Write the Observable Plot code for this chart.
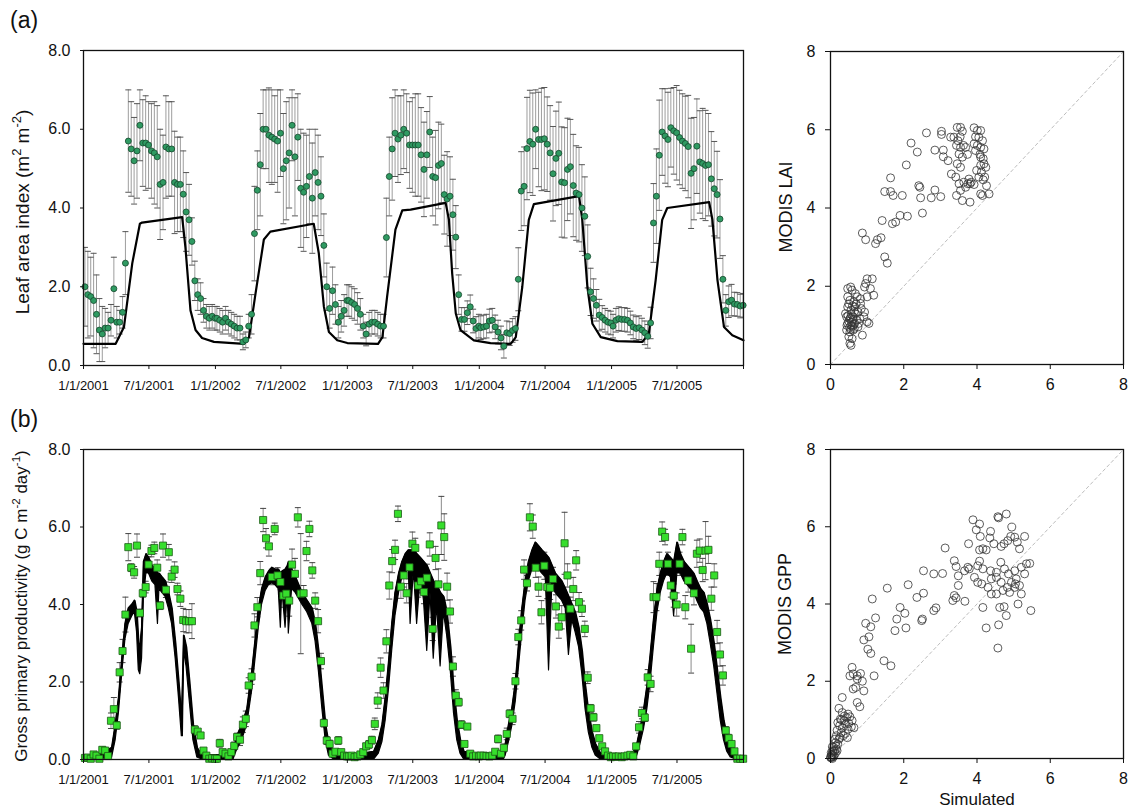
<!DOCTYPE html>
<html>
<head>
<meta charset="utf-8">
<script src="https://cdn.jsdelivr.net/npm/d3@7"></script>
<script src="https://cdn.jsdelivr.net/npm/@observablehq/plot@0.6"></script>
<style>
html,body{margin:0;padding:0;background:#fff;}
#wrap{position:relative;width:1131px;height:811px;overflow:hidden;font-family:"Liberation Sans",Arial,Helvetica,sans-serif;color:#111;}
.pnl{position:absolute;}
.txt{position:absolute;white-space:nowrap;line-height:1;}
.ylab{position:absolute;white-space:nowrap;line-height:1;transform:translate(-50%,-50%) rotate(-90deg);}
.ylab sup{font-size:68%;line-height:0;}
</style>
</head>
<body>
<div id="wrap"></div>
<script>
// ---------- tick labels ----------
const xTickDates = ["2001-01-01","2001-07-01","2002-01-01","2002-07-01","2003-01-01","2003-07-01","2004-01-01","2004-07-01","2005-01-01","2005-07-01","2006-01-01"];
const xTickLabels = ["1/1/2001","7/1/2001","1/1/2002","7/1/2002","1/1/2003","7/1/2003","1/1/2004","7/1/2004","1/1/2005","7/1/2005",""];
const yTicks = [0, 2, 4, 6, 8];
const scatterTicks = [0, 2, 4, 6, 8];
const oneToOne = [0, 8];
const years = [2001, 2002, 2003, 2004, 2005];

// ---------- MODIS LAI (8-day composites) ----------
const lai2001 = [2.0,1.8,1.75,1.65,1.3,0.9,0.8,0.95,0.95,1.15,1.95,1.1,1.1,1.35,2.6,5.7,5.5,5.2,5.45,6.1,5.65,5.65,5.6,5.45,5.4,5.3,4.6,4.65,5.55,5.5,5.5,4.65,4.6,4.6,4.35,3.9,3.7,3.15,2.15,1.8,1.7,1.4,1.25,1.2,1.25,1.2];
const lai2002 = [1.2,1.15,1.1,1.2,1.1,1.05,1.0,0.95,0.95,0.6,0.65,1.0,1.3,3.35,4.45,5.1,6.0,6.0,5.85,5.8,5.75,5.7,5.9,5.0,5.2,5.4,6.1,5.3,5.8,4.5,4.4,4.55,4.8,4.25,4.9,4.65,4.3,3.05,2.0,1.45,1.9,1.55,1.1,1.25,1.4,1.65];
const lai2003 = [1.65,1.6,1.55,1.45,1.3,1.0,0.8,1.05,1.1,1.1,1.05,1.0,1.0,3.25,4.8,5.5,5.9,5.75,5.85,6.0,5.9,5.6,5.6,5.6,5.6,5.35,4.98,5.35,5.93,4.8,4.77,5.08,5.13,4.34,4.23,4.3,3.83,3.26,1.8,1.17,1.17,1.34,1.49,1.13,0.94,1.0];
const lai2004 = [0.96,0.98,1.0,1.13,1.15,0.98,0.85,0.7,0.49,0.83,0.81,0.89,0.94,2.19,4.43,4.55,5.51,5.69,5.62,6.0,5.74,5.74,5.76,5.62,5.4,4.87,5.26,5.39,4.66,4.64,4.98,5.05,4.57,4.38,4.34,4.0,3.79,2.77,1.87,1.7,1.53,1.28,1.22,1.15,1.1,1.08];
const lai2005 = [1.0,1.15,1.19,1.17,1.17,1.15,1.08,0.98,0.94,0.96,0.9,0.83,0.74,1.08,3.62,4.3,5.34,5.93,5.83,5.74,6.04,5.96,5.91,5.79,5.7,5.64,5.56,4.88,5.0,5.57,5.17,5.13,5.08,5.1,4.74,4.49,4.34,3.72,2.19,1.4,1.62,1.66,1.56,1.55,1.51,1.53];
const laiSd2001 = [1.0,1.1,1.0,1.2,1.0,0.8,0.7,0.5,0.4,0.4,0.8,0.4,0.3,0.4,0.8,1.3,1.2,1.1,1.2,0.9,1.1,1.2,1.1,1.2,1.3,1.3,1.4,1.2,1.3,1.2,1.2,1.3,1.2,1.2,1.1,1.0,0.9,0.6,0.5,0.4,0.4,0.3,0.3,0.3,0.3,0.3];
const laiSd2002 = [0.3,0.3,0.3,0.3,0.3,0.3,0.3,0.3,0.3,0.2,0.2,0.3,0.5,1.2,1.0,1.3,1.0,1.0,1.2,1.2,1.1,1.3,1.1,1.4,1.5,1.4,0.9,1.5,1.1,1.5,1.5,1.3,1.2,1.4,1.1,1.2,1.0,0.8,0.6,0.5,0.6,0.5,0.4,0.4,0.4,0.4];
const laiSd2003 = [0.4,0.4,0.4,0.4,0.4,0.3,0.3,0.3,0.3,0.3,0.3,0.3,0.3,1.0,1.0,1.3,1.1,1.1,1.0,1.0,1.0,1.1,1.2,1.3,1.3,1.2,1.2,1.1,0.9,1.0,1.2,1.1,1.0,1.0,1.2,1.0,0.9,0.8,0.5,0.3,0.3,0.3,0.3,0.3,0.3,0.3];
const laiSd2004 = [0.3,0.3,0.3,0.3,0.3,0.3,0.3,0.3,0.3,0.3,0.3,0.3,0.3,0.8,1.0,1.0,1.3,1.3,1.3,1.0,1.2,1.3,1.3,1.2,1.2,1.2,1.2,1.3,1.4,1.4,1.3,1.2,1.3,1.2,1.2,1.1,1.0,0.8,0.6,0.5,0.4,0.4,0.3,0.3,0.3,0.3];
const laiSd2005 = [0.3,0.3,0.3,0.3,0.3,0.3,0.3,0.3,0.3,0.3,0.3,0.3,0.3,0.4,1.0,1.2,1.4,1.1,1.2,1.2,1.0,1.1,1.2,1.2,1.2,1.2,1.3,1.4,1.3,1.2,1.3,1.4,1.4,1.3,1.2,1.2,1.1,1.0,0.6,0.4,0.4,0.4,0.3,0.3,0.3,0.3];

// ---------- MODIS GPP (8-day composites, g C m-2 day-1) ----------
const gpp2001 = [0.04,0.05,0.02,0.13,0.1,0.02,0.25,0.23,0.09,1.0,1.3,0.88,2.25,2.8,3.74,5.48,4.95,4.83,5.52,3.78,4.29,4.45,5.03,5.38,5.46,4.95,3.97,5.52,4.38,5.35,4.72,4.9,4.4,4.15,3.6,3.57,3.57,3.57,0.77,0.72,0.62,0.23,0.1,0.02,0.03,0.02];
const gpp2002 = [0.02,0.42,0.19,0.15,0.08,0.19,0.35,0.58,0.51,0.9,1.05,1.91,2.14,3.46,3.93,4.81,6.18,5.71,5.5,4.71,5.95,4.75,4.58,4.23,4.28,4.1,5.03,4.79,6.25,4.28,4.29,5.38,5.95,4.88,4.1,3.57,2.54,0.94,0.49,0.4,0.15,0.2,0.49,0.19,0.1,0.08];
const gpp2003 = [0.08,0.1,0.06,0.08,0.13,0.19,0.34,0.39,0.5,0.92,1.52,2.37,1.78,3.05,4.49,5.12,5.41,6.34,4.46,4.75,4.29,4.96,5.57,5.46,4.49,4.6,4.32,4.69,5.55,3.37,5.2,4.52,6.04,5.74,4.46,3.82,2.4,1.65,1.48,0.9,0.4,0.85,0.15,0.08,0.1,0.08];
const gpp2004 = [0.1,0.1,0.09,0.08,0.1,0.2,0.53,0.15,0.3,0.66,1.18,1.05,2.02,3.16,3.59,4.9,4.55,6.25,6.01,4.95,4.46,3.8,5.0,4.45,4.43,4.66,3.95,3.43,3.67,5.58,4.75,3.89,4.4,5.14,4.06,3.89,3.37,2.11,1.32,1.09,0.81,0.55,0.34,0.21,0.1,0.06];
const gpp2005 = [0.08,0.07,0.08,0.06,0.08,0.1,0.12,0.08,0.34,0.83,1.2,1.08,2.12,1.95,4.19,4.19,5.05,5.88,5.74,5.05,4.49,4.23,4.0,5.05,5.74,3.93,4.62,2.86,4.29,5.31,5.39,4.89,5.39,5.41,4.15,4.75,3.29,2.71,2.17,0.75,0.55,0.4,0.21,0.02,0.02,0.02];
const gppSd2001 = [0.03,0.03,0.03,0.05,0.05,0.03,0.08,0.08,0.05,0.2,0.3,0.1,0.25,0.3,0.45,0.35,0.1,0.15,0.3,0.1,0.1,0.15,0.2,0.15,0.15,0.2,0.1,0.3,0.2,0.2,0.15,0.2,0.15,0.2,0.3,0.3,0.3,0.45,0.1,0.05,0.05,0.03,0.03,0.02,0.02,0.02];
const gppSd2002 = [0.02,0.1,0.05,0.05,0.03,0.05,0.1,0.1,0.15,0.2,0.2,0.2,0.2,0.3,0.25,0.3,0.3,0.25,0.25,0.2,0.15,0.2,0.2,0.3,0.3,0.4,0.4,0.4,0.25,1.55,0.2,0.25,0.2,0.2,0.2,0.3,0.2,0.1,0.1,0.1,0.05,0.05,0.1,0.05,0.03,0.03];
const gppSd2003 = [0.03,0.03,0.03,0.03,0.05,0.05,0.08,0.1,0.1,0.15,0.2,0.25,0.2,0.3,0.35,0.3,0.25,0.2,0.3,0.3,0.25,0.3,0.3,0.25,0.3,0.3,0.3,0.35,0.3,0.3,0.3,0.4,0.75,0.6,0.35,0.3,0.25,0.15,0.1,0.1,0.05,0.05,0.03,0.03,0.03,0.03];
const gppSd2004 = [0.03,0.03,0.03,0.03,0.03,0.05,0.1,0.05,0.1,0.15,0.1,0.15,0.2,0.2,0.25,0.25,0.2,0.35,0.3,0.25,0.25,0.3,0.35,0.3,0.3,0.3,0.3,0.3,0.3,0.8,0.3,0.3,0.3,0.25,0.25,0.2,0.2,0.15,0.1,0.1,0.05,0.05,0.03,0.03,0.03,0.02];
const gppSd2005 = [0.02,0.02,0.02,0.02,0.02,0.03,0.03,0.03,0.05,0.15,0.15,0.1,0.2,0.2,0.4,0.35,0.3,0.25,0.2,0.3,0.3,0.3,0.3,0.3,0.2,0.3,0.3,0.63,0.3,0.35,0.3,0.3,0.75,0.35,0.3,0.3,0.3,0.3,0.25,0.1,0.1,0.05,0.03,0.02,0.02,0.02];

// ---------- simulated LAI (days since 2001-01-01) ----------
const simLaiDay = [0,89,112,135,156,162,273,282,296,310,328,361,444,458,476,499,517,637,651,665,679,702,730,815,827,840,863,882,905,1002,1011,1020,1030,1043,1080,1126,1182,1196,1214,1232,1246,1371,1380,1394,1408,1431,1477,1546,1564,1583,1601,1615,1731,1740,1754,1772,1795,1826];
const simLaiVal = [0.55,0.55,0.98,2.6,3.6,3.63,3.77,3.0,1.4,0.9,0.7,0.6,0.55,0.72,1.83,3.2,3.4,3.6,2.85,1.5,0.85,0.64,0.57,0.55,0.72,1.75,3.45,3.94,3.96,4.13,3.7,2.34,1.32,0.9,0.64,0.57,0.55,0.72,2.0,3.7,4.1,4.3,3.7,2.0,1.06,0.72,0.62,0.6,0.8,2.17,3.7,4.0,4.15,3.7,2.17,0.98,0.77,0.64];

// ---------- simulated GPP: daily range (low / high) ----------
const simGppDay = [0,40,79,89,98,107,116,125,135,142,148,153,157,162,167,174,181,190,199,206,210,218,227,236,245,255,264,272,275,278,285,294,304,315,328,380,415,425,439,453,467,476,485,494,504,513,522,531,540,546,550,559,565,568,577,587,596,605,619,633,642,651,661,670,679,693,750,804,817,827,836,845,854,863,873,882,891,900,905,914,923,933,942,951,960,969,978,988,997,1006,1016,1025,1034,1043,1053,1110,1163,1168,1177,1186,1196,1205,1214,1223,1232,1242,1251,1260,1269,1279,1288,1297,1306,1315,1324,1334,1343,1352,1361,1371,1380,1389,1398,1408,1417,1431,1480,1523,1532,1541,1551,1560,1569,1578,1588,1597,1606,1615,1625,1634,1643,1652,1662,1671,1680,1689,1698,1708,1717,1726,1735,1745,1754,1763,1772,1781,1791,1805,1826];
const simGppLo = [0,0,0.05,0.5,1.2,2.2,3.1,3.5,3.7,3.8,
3.3,2.3,2.2,2.6,4.2,4.8,4.8,4.6,4.5,3.5,
4.4,4.3,4.2,3.9,3.5,2.6,1.6,0.6,0.6,2.8,
2.4,1.5,0.5,0.05,0,0,0,0.25,0.5,0.9,
1.8,2.6,3.4,4.0,4.35,4.5,4.55,4.5,4.4,3.4,
4.4,3.4,4.3,3.25,4.4,4.3,4.15,4.0,3.8,3.5,
3.05,2.3,1.3,0.5,0.1,0,0,0,0.15,0.45,
1.0,1.8,2.8,3.7,4.3,4.7,4.8,4.9,3.5,4.9,
3.5,4.7,4.1,2.8,4.3,2.6,4.0,2.4,3.8,3.2,
2.3,1.2,0.5,0.15,0,0,0,0.1,0.45,0.85,
1.5,2.4,3.3,4.1,4.6,4.9,5.0,4.9,4.8,4.7,
2.3,4.5,4.3,4.2,4.1,3.9,2.7,3.6,3.3,2.9,
2.2,1.3,0.7,0.3,0.1,0,0,0,0.1,0.4,
0.8,1.3,2.0,2.9,3.8,4.3,4.6,4.8,4.7,3.7,
4.8,4.8,4.6,4.5,4.4,4.3,4.1,3.9,3.8,3.5,
3.0,2.4,1.7,1.0,0.5,0.2,0.05,0,0];
const simGppHi = [0.05,0.08,0.3,0.9,1.6,2.6,3.5,3.9,4.0,4.1,3.8,3.0,2.9,3.4,5.1,5.3,5.2,5.0,4.9,4.8,4.8,4.7,4.6,4.3,3.9,3.0,2.0,1.0,2.0,3.2,2.9,2.0,0.9,0.3,0.1,0.12,0.15,0.6,0.9,1.3,2.3,3.1,3.9,4.4,4.7,4.85,4.95,4.9,4.9,4.8,4.85,4.9,5.0,5.1,4.9,4.7,4.5,4.3,4.1,3.9,3.5,2.8,1.8,0.9,0.4,0.2,0.12,0.2,0.5,0.9,1.6,2.5,3.5,4.3,4.8,5.1,5.3,5.4,5.4,5.4,5.3,5.2,5.1,5.0,4.8,4.6,4.5,4.3,4.2,3.8,2.9,1.8,1.0,0.5,0.2,0.1,0.1,0.4,0.9,1.3,2.0,3.0,3.9,4.6,5.1,5.4,5.6,5.5,5.4,5.3,5.2,5.0,4.8,4.7,4.6,4.4,4.2,4.0,3.8,3.4,2.8,1.9,1.2,0.7,0.4,0.15,0.08,0.2,0.4,0.8,1.3,1.9,2.7,3.6,4.4,4.8,5.1,5.3,5.2,5.1,5.6,5.3,5.1,5.0,4.9,4.8,4.6,4.4,4.3,4.0,3.6,3.0,2.3,1.6,1.0,0.6,0.3,0.1,0.05];

// ---------- scatter: simulated vs MODIS LAI ----------
const laiScatterSim = [0.87,0.96,1.23,1.28,1.38,1.41,1.48,1.55,1.48,1.64,1.64,1.71,1.69,1.78,1.96,1.9,2.1,2.07,2.2,2.37,2.41,2.44,2.46,2.51,2.62,2.85,2.85,2.75,3.01,3.03,3.03,3.08,3.08,3.21,3.28,3.3,
3.46,3.55,3.6,3.37,3.48,3.54,3.44,3.55,3.63,3.51,3.6,3.46,3.55,3.42,3.51,3.44,3.55,3.6,3.69,3.74,3.64,3.75,3.81,3.69,3.78,
3.92,4.01,4.1,3.96,4.05,4.15,3.92,4.01,4.1,4.19,3.96,4.08,4.17,3.99,4.1,4.19,4.12,4.24,4.05,4.17,4.26,4.33,4.1,4.15,3.92,3.84,3.81,4.1,4.21,
0.55,0.59,0.68,0.47,0.53,0.64,0.73,0.82,0.47,0.56,0.66,0.75,0.84,0.93,0.44,0.53,0.62,0.71,0.8,0.47,0.56,0.66,0.75,0.44,0.53,0.62,0.5,0.59,0.53,0.56,0.87,1.0,1.05,0.96,1.0,1.14,1.18,1.09,0.93,1.0,0.82,0.91,0.47,0.41,0.68,0.77,0.62,0.5,0.58,0.52,0.6,0.48,0.57,0.65,0.5,0.6,0.7,0.55,0.65,0.45,0.55,0.63];
const laiScatterModis = [3.36,3.19,3.09,3.19,3.24,3.68,2.75,2.59,4.42,4.77,4.42,4.32,3.6,3.64,4.32,3.81,3.79,5.1,5.66,5.43,4.57,4.53,4.26,3.87,5.92,5.48,4.46,4.26,4.29,5.96,5.88,5.48,5.31,5.21,5.81,4.87,
6.06,6.06,5.96,5.81,5.72,5.82,5.6,5.55,5.6,5.38,5.3,5.13,5.04,4.79,4.62,4.32,4.45,4.19,5.55,5.37,4.66,4.62,4.15,4.53,4.74,
6.05,5.98,5.98,5.82,5.81,5.72,5.64,5.6,5.55,5.51,5.47,5.37,5.26,4.96,5.09,5.13,4.92,5.04,4.79,4.72,4.57,4.36,4.36,4.32,4.6,4.66,4.62,5.3,4.79,
1.98,1.9,1.81,1.73,1.64,1.6,1.73,1.68,1.47,1.39,1.47,1.34,1.43,1.34,1.22,1.17,1.22,1.13,1.17,1.05,1.0,1.05,0.96,0.88,0.83,0.88,0.71,0.66,0.54,0.49,0.75,1.09,1.05,2.07,2.19,2.19,1.77,1.94,1.98,1.73,1.56,1.22,1.94,1.3,1.3,1.05,1.15,1.1,1.08,0.95,0.98,1.25,1.28,1.35,1.55,1.5,1.55,0.9,0.92,1.0,1.2,1.02];

// ---------- scatter: simulated vs MODIS GPP ----------
const gppScatterSim = [3.89,4.07,3.98,4.09,3.77,4.16,4.07,4.25,4.37,4.35,4.57,4.59,4.8,4.46,4.66,4.74,4.84,4.95,4.92,5.03,5.1,5.3,5.16,4.07,4.02,4.16,4.37,4.53,4.65,4.75,4.86,5.03,5.21,5.35,5.44,5.3,5.07,4.94,4.83,5.03,5.16,5.21,4.53,4.39,4.3,4.39,4.53,4.66,4.71,4.89,5.05,5.12,4.74,4.8,4.62,4.16,4.25,4.59,4.57,5.47,4.02,4.13,3.93,3.79,3.75,3.66,3.38,3.43,3.49,3.49,3.38,3.34,3.43,3.67,3.13,3.06,2.82,2.54,2.36,2.54,2.51,2.49,2.82,2.88,2.12,2.03,2.06,1.9,1.81,1.76,1.55,1.23,1.14,1.1,1.05,0.96,0.91,1.02,1.1,1.46,1.65,1.19,0.59,0.62,0.73,0.53,0.82,0.87,0.73,0.91,0.62,0.69,0.73,0.8,0.32,0.23,0.32,0.44,0.48,0.27,0.37,0.2,0.41,0.5,0.32,0.48,0.18,0.29,0.41,0.53,0.59,0.16,0.23,0.14,0.2,0.09,0.16,0.07,0.13,0.04,0.07,0.02,0.11,0.05,0.15,0.02,0.05,0.09,0.0,0.18,0.26,0.35,0.46,0.57,0.64,0.3,0.38,0.25,0.12,0.06,0.03,0.01];
const gppScatterModis = [6.18,6.07,5.92,5.75,5.56,5.43,5.4,5.4,5.88,5.71,6.26,6.23,6.33,5.56,5.49,5.56,5.64,5.99,5.75,5.73,5.6,5.75,5.43,5.11,4.99,4.91,4.86,4.82,5.08,4.91,4.78,4.86,4.95,5.04,5.05,4.78,4.65,4.56,4.43,4.43,4.48,4.26,4.69,4.65,4.43,4.26,4.26,4.56,4.35,4.3,4.52,4.0,3.93,3.7,3.91,3.91,3.38,3.46,2.86,3.83,4.56,4.52,4.69,4.91,4.95,4.86,5.12,4.97,4.73,4.48,4.22,4.09,4.16,4.07,5.45,4.79,4.78,4.86,4.17,4.28,3.61,3.57,3.83,3.9,4.5,3.76,3.38,3.91,3.61,3.31,4.41,3.64,4.13,3.41,3.15,3.5,3.07,2.83,2.72,2.53,2.4,2.14,2.36,2.19,2.14,2.14,2.2,2.0,2.06,1.75,1.8,1.84,1.45,1.34,1.58,1.3,1.19,1.06,1.15,1.02,0.98,0.93,0.89,0.91,0.79,0.76,0.73,0.67,0.65,1.08,0.98,0.59,0.5,0.41,0.37,0.29,0.24,0.18,0.13,0.09,0.04,0.03,0.2,0.3,0.33,0.15,0.0,0.07,0.04,0.2,0.54,0.59,0.54,0.82,0.8,1.0,1.1,0.85,0.5,0.2,0.1,0.02];

// ---------- build tables ----------
const laiVals = [lai2001, lai2002, lai2003, lai2004, lai2005];
const laiSds = [laiSd2001, laiSd2002, laiSd2003, laiSd2004, laiSd2005];
const gppVals = [gpp2001, gpp2002, gpp2003, gpp2004, gpp2005];
const gppSds = [gppSd2001, gppSd2002, gppSd2003, gppSd2004, gppSd2005];
function composites(valsByYear, sdsByYear) {
  const rows = [];
  years.forEach((y, k) => valsByYear[k].forEach((v, i) => rows.push({date: new Date(Date.UTC(y, 0, 1 + 8 * i + 4)), v, sd: sdsByYear[k][i]})));
  return rows;
}
const laiRows = composites(laiVals, laiSds);
const gppRows = composites(gppVals, gppSds);
const dayToDate = d => new Date(Date.UTC(2001, 0, 1 + d));
const simLai = simLaiDay.map((d, i) => ({date: dayToDate(d), v: simLaiVal[i]}));
const simGpp = simGppDay.map((d, i) => ({date: dayToDate(d), lo: simGppLo[i], hi: simGppHi[i]}));
const laiScatter = laiScatterSim.map((s, i) => ({s, m: laiScatterModis[i]}));
const gppScatter = gppScatterSim.map((s, i) => ({s, m: gppScatterModis[i]}));

const tickDates = xTickDates.map(s => new Date(s + "T00:00:00Z"));
const labelOf = new Map(tickDates.map((d, i) => [+d, xTickLabels[i]]));
const xDomain = [tickDates[0], tickDates[tickDates.length - 1]];

const FONT = '"Liberation Sans", Arial, Helvetica, sans-serif';
const hline = {draw(ctx, size) { const w = Math.sqrt(size / Math.PI); ctx.moveTo(-w, 0); ctx.lineTo(w, 0); }};
const baseStyle = {fontFamily: FONT, background: "transparent", color: "#111", overflow: "visible"};

function timePanel({rows, height, marginTop, marginBottom, simMarks, dotOpts, barColor, capColor}) {
  return Plot.plot({
    width: 760, height, marginLeft: 83, marginRight: 17, marginTop, marginBottom,
    style: baseStyle,
    x: {type: "utc", domain: xDomain},
    y: {domain: [0, 8]},
    marks: [
      Plot.ruleX(rows, {x: "date", y1: d => d.v - d.sd, y2: d => d.v + d.sd, stroke: barColor, strokeWidth: 1, clip: true}),
      Plot.dot(rows, {x: "date", y: d => d.v + d.sd, symbol: hline, r: 3, fill: "none", stroke: capColor, strokeWidth: 1, clip: true}),
      Plot.dot(rows, {x: "date", y: d => Math.max(0, d.v - d.sd), symbol: hline, r: 3, fill: "none", stroke: capColor, strokeWidth: 1, clip: true}),
      ...simMarks,
      Plot.dot(rows, {x: "date", y: "v", ...dotOpts}),
      Plot.frame({stroke: "#111", strokeWidth: 1.3}),
      Plot.axisX({ticks: tickDates, tickFormat: d => labelOf.get(+d) ?? "", tickSize: 4, tickPadding: 11, fontSize: 13, label: null}),
      Plot.axisY({ticks: yTicks, tickFormat: d3.format(".1f"), tickSize: 3, tickPadding: 10, fontSize: 16, label: null})
    ]
  });
}

function scatterPanel({data, height, marginTop, marginBottom}) {
  return Plot.plot({
    width: 371, height, marginLeft: 70, marginRight: 8, marginTop, marginBottom,
    style: baseStyle,
    x: {domain: [0, 8]},
    y: {domain: [0, 8]},
    marks: [
      Plot.line(oneToOne, {x: d => d, y: d => d, stroke: "#bdbdbd", strokeWidth: 1, strokeDasharray: "3,3"}),
      Plot.dot(data, {x: "s", y: "m", r: 4, fill: "none", stroke: "#333", strokeWidth: 0.8}),
      Plot.frame({stroke: "#111", strokeWidth: 1.3}),
      Plot.axisX({ticks: scatterTicks, tickFormat: d3.format("d"), tickSize: 5, tickPadding: 9, fontSize: 16, label: null}),
      Plot.axisY({ticks: scatterTicks, tickFormat: d3.format("d"), tickSize: 5, tickPadding: 10, fontSize: 16, label: null})
    ]
  });
}

const wrap = document.getElementById("wrap");
function place(node, left, top) { const d = document.createElement("div"); d.className = "pnl"; d.style.left = left + "px"; d.style.top = top + "px"; d.appendChild(node); wrap.appendChild(d); }

place(timePanel({
  rows: laiRows, height: 400, marginTop: 50, marginBottom: 35,
  simMarks: [Plot.line(simLai, {x: "date", y: "v", stroke: "#000", strokeWidth: 2.2})],
  dotOpts: {r: 3, fill: "#2f9a62", stroke: "#15472c", strokeWidth: 0.8},
  barColor: "#9d9d9d", capColor: "#555"
}), 0, 0);

place(timePanel({
  rows: gppRows, height: 411, marginTop: 49, marginBottom: 52,
  simMarks: [
    Plot.areaY(simGpp, {x: "date", y1: "lo", y2: "hi", fill: "#000", stroke: "#000", strokeWidth: 1.2}),
    Plot.line(simGpp, {x: "date", y: "hi", stroke: "#000", strokeWidth: 1.6})
  ],
  dotOpts: {r: 4, symbol: "square", fill: "#36de2c", stroke: "#1d5a16", strokeWidth: 0.8},
  barColor: "#8a8a8a", capColor: "#444"
}), 0, 400);

place(scatterPanel({data: laiScatter, height: 400, marginTop: 51, marginBottom: 36}), 760, 0);
place(scatterPanel({data: gppScatter, height: 411, marginTop: 49, marginBottom: 53}), 760, 400);

function addText(html, cls, left, top, size) {
  const d = document.createElement("div"); d.className = cls; d.innerHTML = html;
  d.style.left = left + "px"; d.style.top = top + "px"; d.style.fontSize = size + "px"; wrap.appendChild(d);
}
addText("(a)", "txt", 10, 9, 23);
addText("(b)", "txt", 10, 408, 23);
addText("Leaf area index (m<sup>2</sup> m<sup>-2</sup>)", "ylab", 22, 212, 19);
addText("Gross primary productivity (g C m<sup>-2</sup> day<sup>-1</sup>)", "ylab", 21, 606, 17);
addText("MODIS LAI", "ylab", 786, 207, 18);
addText("MODIS GPP", "ylab", 785, 604, 18);
const sim = document.createElement("div"); sim.className = "txt"; sim.textContent = "Simulated";
sim.style.left = "977px"; sim.style.top = "791px"; sim.style.fontSize = "17px"; sim.style.transform = "translateX(-50%)";
wrap.appendChild(sim);
</script>
</body>
</html>
